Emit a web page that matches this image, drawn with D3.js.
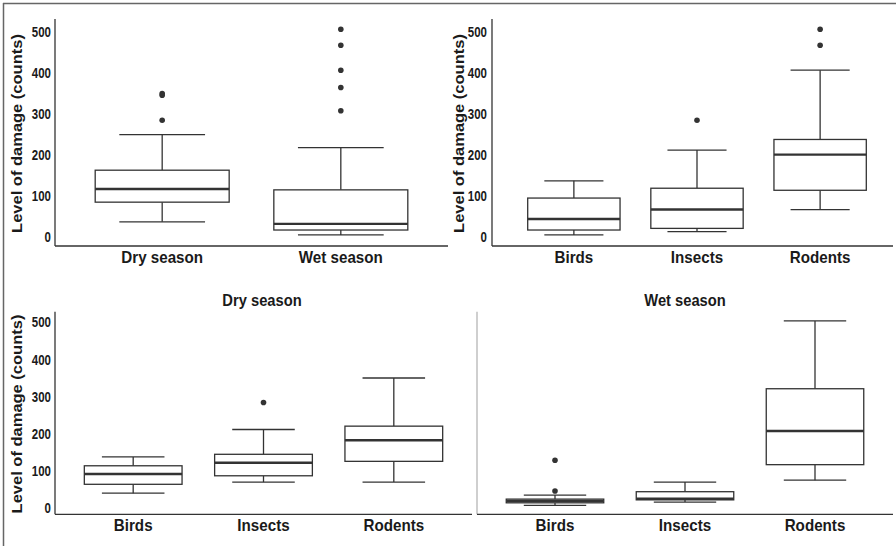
<!DOCTYPE html>
<html>
<head>
<meta charset="utf-8">
<script src="https://cdn.jsdelivr.net/npm/d3@7/dist/d3.min.js"></script>
<style>
  body { margin: 0; background: #fff; }
  svg text { font-family: "Liberation Sans", Arial, sans-serif; font-weight: bold; fill: #1a1a1a; }
</style>
</head>
<body>
<svg width="896" height="546"></svg>
<script>
// values: [lower whisker, Q1, median, Q3, upper whisker]
const seasons = ['Dry season', 'Wet season'];
const pests = ['Birds', 'Insects', 'Rodents'];
const yTicks = [0, 100, 200, 300, 400, 500];

const seasonStats = [[37, 85, 117, 163, 250], [5, 17, 32, 115, 218]];
const seasonOutliers = [[350, 346, 285], [507, 468, 407, 365, 308]];

const pestStats = [[5, 17, 44, 95, 137], [13, 21, 67, 119, 212], [67, 114, 201, 238, 407]];
const pestOutliers = [[], [285], [507, 468]];

const dryPestStats = [[39, 63, 91, 113, 137], [69, 86, 121, 144, 211], [69, 125, 182, 220, 350]];
const dryPestOutliers = [[], [284], []];

const wetPestStats = [[6, 13, 18, 23, 34], [15, 21, 24, 43, 69], [74, 116, 207, 321, 504]];
const wetPestOutliers = [[128, 45], [], []];

const svg = d3.select('svg');
const ink = '#333';
const squeeze = 0.88; // the source figure is slightly compressed horizontally

// outer frame (top and left edges only)
svg.append('line').attr('x1', 3).attr('x2', 896).attr('y1', 3.5).attr('y2', 3.5)
    .attr('stroke', '#666').attr('stroke-width', 1.5);
svg.append('line').attr('x1', 3.5).attr('x2', 3.5).attr('y1', 3).attr('y2', 546)
    .attr('stroke', '#666').attr('stroke-width', 1.5);

const panels = [
  { cats: seasons, stats: seasonStats, out: seasonOutliers,
    axisX: 55, right: 448, xRange: [55, 448], bottom: 246, top: 19, domain: [-22, 532],
    labelX: 51, titleX: 17, xLabelY: 263, yAxisColor: ink, showY: true },
  { cats: pests, stats: pestStats, out: pestOutliers,
    axisX: 492, right: 893, xRange: [500, 894], bottom: 246, top: 19, domain: [-22, 532],
    labelX: 487, titleX: 459, xLabelY: 263, yAxisColor: ink, showY: true },
  { cats: pests, stats: dryPestStats, out: dryPestOutliers, title: 'Dry season', titleCX: 262,
    axisX: 55, right: 472, xRange: [55, 472], bottom: 514.3, top: 311.7, domain: [-18, 529],
    labelX: 51, titleX: 17, xLabelY: 531, yAxisColor: ink, showY: true },
  { cats: pests, stats: wetPestStats, out: wetPestOutliers, title: 'Wet season', titleCX: 685,
    axisX: 477, right: 893, xRange: [477, 893], bottom: 514.3, top: 311.7, domain: [-18, 529],
    labelX: 473, titleX: 440, xLabelY: 531, yAxisColor: '#b5b5b5', showY: false }
];

panels.forEach(p => {
  const g = svg.append('g');
  const x = d3.scalePoint().domain(p.cats).range(p.xRange).padding(0.6);
  const y = d3.scaleLinear().domain(p.domain).range([p.bottom, p.top]);
  const step = x.step();
  const boxW = step * 0.75;
  const capW = step * 0.48;

  // axis lines
  g.append('line').attr('x1', p.axisX).attr('x2', p.axisX).attr('y1', p.top).attr('y2', p.bottom)
      .attr('stroke', p.yAxisColor).attr('stroke-width', 1.3);
  g.append('line').attr('x1', p.axisX).attr('x2', p.right).attr('y1', p.bottom).attr('y2', p.bottom)
      .attr('stroke', ink).attr('stroke-width', 1.3);

  if (p.showY) {
    g.selectAll('.ytick').data(yTicks).enter().append('text')
        .attr('transform', d => `translate(${p.labelX},${y(d)}) scale(0.82,1)`)
        .attr('dy', '0.36em')
        .attr('text-anchor', 'end').attr('font-size', 14)
        .text(d => d);
    g.append('text')
        .attr('transform', `translate(${p.titleX},${(p.top + p.bottom) / 2 + 1}) rotate(-90) scale(1,${squeeze})`)
        .attr('text-anchor', 'middle').attr('dy', '0.36em').attr('font-size', 16.5)
        .text('Level of damage (counts)');
  }

  g.selectAll('.xlab').data(p.cats).enter().append('text')
      .attr('transform', d => `translate(${x(d)},${p.xLabelY}) scale(${squeeze + 0.04},1)`)
      .attr('text-anchor', 'middle').attr('font-size', 16.5)
      .text(d => d);

  if (p.title) {
    g.append('text')
        .attr('transform', `translate(${p.titleCX},306) scale(${squeeze + 0.04},1)`)
        .attr('text-anchor', 'middle').attr('font-size', 16).text(p.title);
  }

  const boxes = g.selectAll('.box').data(p.cats).enter().append('g')
      .attr('stroke', ink).attr('fill', 'none').attr('stroke-width', 1.3);

  // whiskers + caps
  boxes.append('line').attr('x1', d => x(d)).attr('x2', d => x(d))
      .attr('y1', (d, i) => y(p.stats[i][3])).attr('y2', (d, i) => y(p.stats[i][4]));
  boxes.append('line').attr('x1', d => x(d)).attr('x2', d => x(d))
      .attr('y1', (d, i) => y(p.stats[i][1])).attr('y2', (d, i) => y(p.stats[i][0]));
  boxes.append('line').attr('x1', d => x(d) - capW / 2).attr('x2', d => x(d) + capW / 2)
      .attr('y1', (d, i) => y(p.stats[i][4])).attr('y2', (d, i) => y(p.stats[i][4]));
  boxes.append('line').attr('x1', d => x(d) - capW / 2).attr('x2', d => x(d) + capW / 2)
      .attr('y1', (d, i) => y(p.stats[i][0])).attr('y2', (d, i) => y(p.stats[i][0]));

  // box
  boxes.append('rect')
      .attr('x', d => x(d) - boxW / 2).attr('width', boxW)
      .attr('y', (d, i) => y(p.stats[i][3]))
      .attr('height', (d, i) => y(p.stats[i][1]) - y(p.stats[i][3]))
      .attr('fill', '#fff');
  // median
  boxes.append('line').attr('x1', d => x(d) - boxW / 2).attr('x2', d => x(d) + boxW / 2)
      .attr('y1', (d, i) => y(p.stats[i][2])).attr('y2', (d, i) => y(p.stats[i][2]))
      .attr('stroke-width', 2.4);

  // outliers
  p.cats.forEach((c, i) => {
    g.selectAll(null).data(p.out[i]).enter().append('circle')
        .attr('cx', x(c)).attr('cy', d => y(d)).attr('r', 2.8)
        .attr('fill', ink);
  });
});
</script>
</body>
</html>
